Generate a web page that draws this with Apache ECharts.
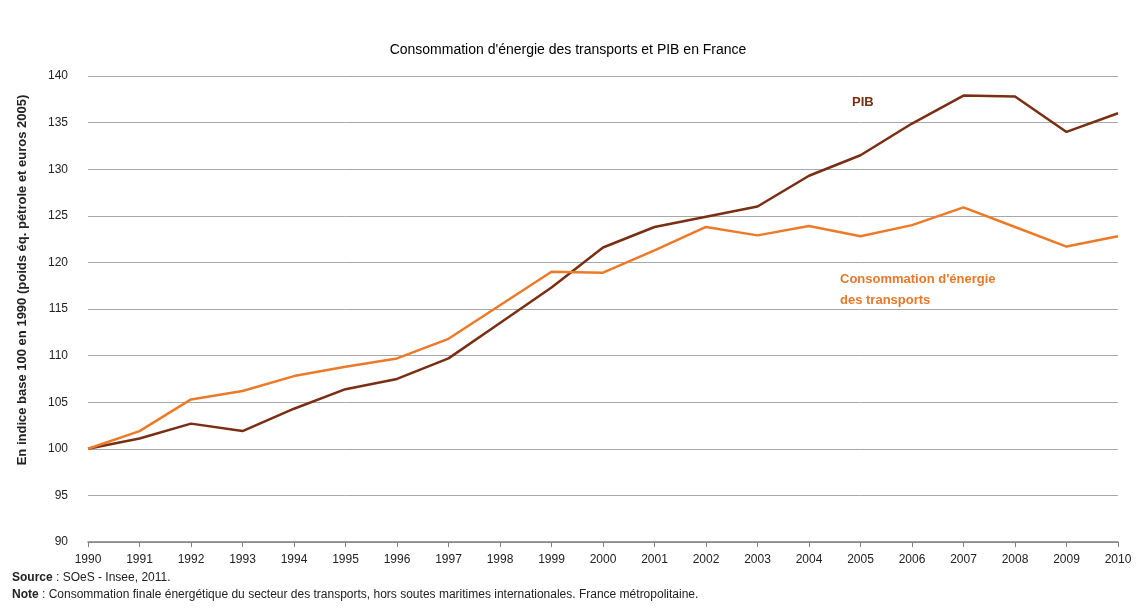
<!DOCTYPE html>
<html><head><meta charset="utf-8">
<script src="https://cdn.jsdelivr.net/npm/echarts@6/dist/echarts.min.js"></script>
<style>html,body{margin:0;padding:0;background:#fff}#c{width:1136px;height:616px}</style>
</head><body><div id="c"></div>
<script>
const years = ['1990','1991','1992','1993','1994','1995','1996','1997','1998','1999','2000','2001','2002','2003','2004','2005','2006','2007','2008','2009','2010'];
const pib = [100,101.1,102.7,101.9,104.3,106.4,107.5,109.7,113.5,117.3,121.6,123.8,124.9,126.0,129.3,131.5,134.9,137.9,137.8,134.0,136.0];
const energie = [100,101.9,105.3,106.2,107.8,108.8,109.7,111.8,115.4,119.0,118.9,121.3,123.8,122.9,123.9,122.8,124.0,125.9,123.8,121.7,122.8];
const yTicks = {min:90, max:140, interval:5};

const chart = echarts.init(document.getElementById('c'));
const font = 'Liberation Sans, Arial, sans-serif';
chart.setOption({
  backgroundColor:'#fff',
  animation:false,
  title:{text:"Consommation d'énergie des transports et PIB en France", left:'center', top:38,
    textStyle:{fontFamily:font, fontSize:14, fontWeight:'normal', color:'#000'}},
  grid:{left:88, right:18, top:76, bottom:74},
  xAxis:{type:'category', data:years, boundaryGap:false,
    axisLine:{lineStyle:{color:'#808080', width:1.5}},
    axisTick:{show:true, length:5, lineStyle:{color:'#808080'}},
    axisLabel:{fontFamily:font, fontSize:12, color:'#222', margin:12}},
  yAxis:{type:'value', min:yTicks.min, max:yTicks.max, interval:yTicks.interval,
    axisLine:{show:false}, axisTick:{show:false},
    axisLabel:{fontFamily:font, fontSize:12, color:'#222', margin:20},
    splitLine:{lineStyle:{color:'#a8a8a8', width:1}}},
  series:[
    {name:'PIB', type:'line', data:pib, symbol:'none', lineStyle:{color:'#7a2e14', width:2.5}, itemStyle:{color:'#7a2e14'}},
    {name:"Consommation d'énergie des transports", type:'line', data:energie, symbol:'none', lineStyle:{color:'#ec7a28', width:2.5}, itemStyle:{color:'#ec7a28'}}
  ],
  graphic:[
    {type:'text', x:22, y:280, rotation:Math.PI/2, style:{text:'En indice base 100 en 1990 (poids éq. pétrole et euros 2005)', fontFamily:font, fontSize:13, fontWeight:'bold', fill:'#222', textAlign:'center', textVerticalAlign:'middle'}},
    {type:'text', left:852, top:96, style:{text:'PIB', fontFamily:font, fontSize:13, fontWeight:'bold', fill:'#7a2e14'}},
    {type:'text', left:840, top:269, style:{text:"Consommation d'énergie\ndes transports", fontFamily:font, fontSize:13, fontWeight:'bold', fill:'#e8782a', lineHeight:21}},
    {type:'text', left:12, top:572, style:{rich:{b:{fontWeight:'bold', fontFamily:font, fontSize:12, fill:'#222'}, n:{fontFamily:font, fontSize:12, fill:'#222'}}, text:'{b|Source} {n|: SOeS - Insee, 2011.}'}},
    {type:'text', left:12, top:589, style:{rich:{b:{fontWeight:'bold', fontFamily:font, fontSize:12, fill:'#222'}, n:{fontFamily:font, fontSize:12, fill:'#222'}}, text:'{b|Note} {n|: Consommation finale énergétique du secteur des transports, hors soutes maritimes internationales. France métropolitaine.}'}}
  ]
});
</script></body></html>
